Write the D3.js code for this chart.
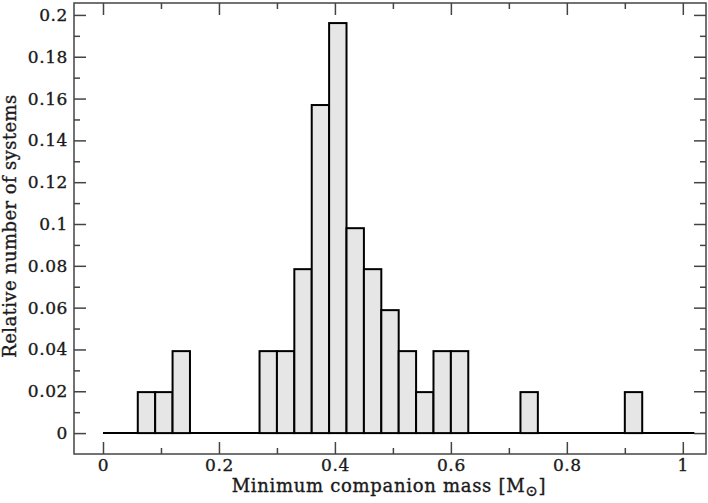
<!DOCTYPE html>
<html>
<head>
<meta charset="utf-8">
<script src="https://cdn.jsdelivr.net/npm/d3@7"></script>
<style>
  body { margin: 0; background: #fff; }
  text { font-family: "DejaVu Serif", "Liberation Serif", serif; fill: #1a1a1a; stroke: #1a1a1a; stroke-width: 0.35px; }
</style>
</head>
<body>
<svg id="chart"></svg>
<script>
// histogram bins (left edge, width 0.03) and relative number of systems
const binLeft = [0.00, 0.03, 0.06, 0.09, 0.12, 0.15, 0.18, 0.21, 0.24, 0.27, 0.30, 0.33,
                 0.36, 0.39, 0.42, 0.45, 0.48, 0.51, 0.54, 0.57, 0.60, 0.63, 0.66, 0.69,
                 0.72, 0.75, 0.78, 0.81, 0.84, 0.87, 0.90, 0.93, 0.96, 0.99];
const fraction = [0, 0, 0.0196, 0.0196, 0.0392, 0, 0, 0, 0, 0.0392, 0.0392, 0.0784,
                  0.1569, 0.1961, 0.0980, 0.0784, 0.0588, 0.0392, 0.0196, 0.0392, 0.0392, 0, 0, 0,
                  0.0196, 0, 0, 0, 0, 0, 0.0196, 0, 0, 0];
const binWidth = 0.03;
const xTicks = [0, 0.2, 0.4, 0.6, 0.8, 1];
const xMinor = [0.1, 0.3, 0.5, 0.7, 0.9];
const yTicks = [0, 0.02, 0.04, 0.06, 0.08, 0.1, 0.12, 0.14, 0.16, 0.18, 0.2];
const yMinor = [0.01, 0.03, 0.05, 0.07, 0.09, 0.11, 0.13, 0.15, 0.17, 0.19];

const width = 708, height = 503;
const margin = {top: 3, right: 2, bottom: 49, left: 74};
const svg = d3.select("#chart").attr("width", width).attr("height", height);

const x = d3.scaleLinear().domain([-0.05, 1.04]).range([margin.left, width - margin.right]);
const y = d3.scaleLinear().domain([-0.01, 0.2057]).range([height - margin.bottom, margin.top]);

const bins = binLeft.map((b, i) => ({x0: b, x1: b + binWidth, v: fraction[i]}));
const bottomY = height - margin.bottom, rightX = width - margin.right;
const tickCol = "#444";

// baseline step (zero level across full range)
svg.append("line")
  .attr("x1", x(binLeft[0])).attr("x2", x(binLeft[binLeft.length - 1] + binWidth))
  .attr("y1", y(0)).attr("y2", y(0))
  .attr("stroke", "#000").attr("stroke-width", 2);

svg.append("g").selectAll("rect")
  .data(bins.filter(d => d.v > 0))
  .join("rect")
  .attr("x", d => x(d.x0))
  .attr("width", d => x(d.x1) - x(d.x0))
  .attr("y", d => y(d.v))
  .attr("height", d => y(0) - y(d.v))
  .attr("fill", "#e6e6e6")
  .attr("stroke", "#000")
  .attr("stroke-width", 2);

// axes, ticks pointing inward on all four sides
svg.append("g").attr("transform", `translate(0,${bottomY})`)
  .call(d3.axisBottom(x).tickValues(xTicks).tickSize(-12).tickPadding(5).tickFormat(d3.format("~g")));
svg.append("g").attr("transform", `translate(0,${bottomY})`)
  .call(d3.axisBottom(x).tickValues(xMinor).tickSize(-6).tickFormat(""));
svg.append("g").attr("transform", `translate(0,${margin.top})`)
  .call(d3.axisTop(x).tickValues(xTicks).tickSize(-12).tickFormat(""));
svg.append("g").attr("transform", `translate(0,${margin.top})`)
  .call(d3.axisTop(x).tickValues(xMinor).tickSize(-6).tickFormat(""));

svg.append("g").attr("transform", `translate(${margin.left},0)`)
  .call(d3.axisLeft(y).tickValues(yTicks).tickSize(-12).tickPadding(6).tickFormat(d3.format("~g")));
svg.append("g").attr("transform", `translate(${margin.left},0)`)
  .call(d3.axisLeft(y).tickValues(yMinor).tickSize(-6).tickFormat(""));
svg.append("g").attr("transform", `translate(${rightX},0)`)
  .call(d3.axisRight(y).tickValues(yTicks).tickSize(-12).tickFormat(""));
svg.append("g").attr("transform", `translate(${rightX},0)`)
  .call(d3.axisRight(y).tickValues(yMinor).tickSize(-6).tickFormat(""));

svg.selectAll(".domain").remove();
svg.selectAll(".tick line").attr("stroke", tickCol).attr("stroke-width", 1.5);
svg.selectAll(".tick text")
  .style("font-family", "'DejaVu Serif', serif")
  .style("font-size", "17px").style("letter-spacing", "0.6px")
  .attr("fill", "#1a1a1a");

// frame
svg.append("rect")
  .attr("x", margin.left).attr("y", margin.top)
  .attr("width", rightX - margin.left).attr("height", bottomY - margin.top)
  .attr("fill", "none").attr("stroke", tickCol).attr("stroke-width", 1.5);

// axis titles
const xt = svg.append("text")
  .attr("x", 389).attr("y", 492)
  .attr("text-anchor", "middle")
  .style("font-size", "18px").style("letter-spacing", "0.7px");
xt.append("tspan").text("Minimum companion mass [M");
xt.append("tspan").attr("dy", 4).style("font-size", "15px").text("⊙");
xt.append("tspan").attr("dy", -4).text("]");

svg.append("text")
  .attr("transform", `translate(16,226) rotate(-90)`)
  .attr("text-anchor", "middle")
  .style("font-size", "18px").style("letter-spacing", "0.4px")
  .text("Relative number of systems");
</script>
</body>
</html>
